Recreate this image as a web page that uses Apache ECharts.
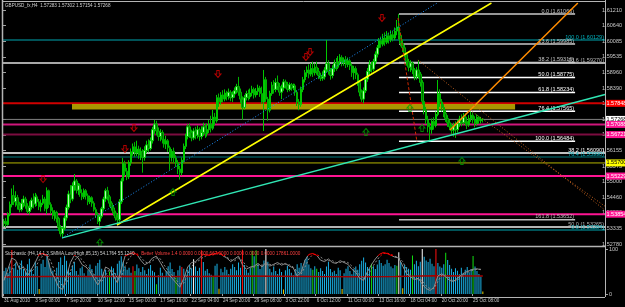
<!DOCTYPE html>
<html><head><meta charset="utf-8">
<script src="https://cdn.jsdelivr.net/npm/echarts@6/dist/echarts.min.js"></script>
<style>html,body{margin:0;padding:0;background:#000;}#c{width:625px;height:307px;}</style>
</head><body><div id="c"></div>
<script>
const FONT = "'Liberation Sans Narrow','Liberation Sans',Arial,sans-serif";
const symbolTitle = 'GBPUSD_fx,H4  1.57283 1.57302 1.57154 1.57268';
const stochTitle = 'Stochastic (H4,14,1,3,SMMA,Low/High,85,15) 54.1764 55.1240';
const volTitle = 'Better Volume 1.4 0.0000 0.0000 667.0000 0.0000 0.0000 0.0000 17861.0000';
const timeLabels = ['31 Aug 2010','3 Sep 08:00','7 Sep 20:00','10 Sep 12:00','15 Sep 00:00','17 Sep 16:00','22 Sep 04:00','24 Sep 20:00','29 Sep 08:00','3 Oct 22:00','6 Oct 12:00','11 Oct 00:00','13 Oct 16:00','18 Oct 04:00','20 Oct 20:00','25 Oct 08:00'];
const priceTickLabels = ['1.52780','1.53335','1.53890','1.54460','1.55000','1.55575','1.56155','1.56700','1.57260','1.57825','1.58390','1.58960','1.59535','1.60085','1.60640','1.61210'];
const stochTickLabels = {0:'0',100:'100'};
const stochOverbought = 85;
// [open, close, low, high]
const candles = [
[1.5352,1.5360,1.5340,1.5368],[1.5360,1.5348,1.5338,1.5372],[1.5348,1.5385,1.5344,1.5392],[1.5385,1.5420,1.5378,1.5431],[1.5420,1.5452,1.5410,1.5478],
[1.5452,1.5430,1.5418,1.5490],[1.5430,1.5445,1.5412,1.5468],[1.5445,1.5418,1.5402,1.5455],[1.5418,1.5402,1.5392,1.5430],[1.5402,1.5425,1.5395,1.5440],
[1.5425,1.5440,1.5410,1.5452],[1.5440,1.5415,1.5405,1.5448],[1.5415,1.5395,1.5386,1.5425],[1.5395,1.5410,1.5384,1.5432],[1.5410,1.5436,1.5402,1.5445],
[1.5436,1.5422,1.5406,1.5460],[1.5422,1.5448,1.5412,1.5462],[1.5448,1.5430,1.5415,1.5456],[1.5430,1.5412,1.5400,1.5440],[1.5412,1.5425,1.5395,1.5438],
[1.5425,1.5440,1.5418,1.5455],[1.5440,1.5405,1.5396,1.5448],[1.5405,1.5470,1.5385,1.5482],[1.5470,1.5420,1.5408,1.5474],[1.5420,1.5398,1.5385,1.5428],
[1.5398,1.5380,1.5368,1.5410],[1.5380,1.5392,1.5362,1.5400],[1.5392,1.5370,1.5355,1.5398],[1.5370,1.5338,1.5325,1.5376],[1.5338,1.5315,1.5305,1.5346],
[1.5315,1.5335,1.5298,1.5340],[1.5335,1.5372,1.5328,1.5380],[1.5372,1.5410,1.5362,1.5420],[1.5410,1.5458,1.5402,1.5470],[1.5458,1.5440,1.5425,1.5490],
[1.5440,1.5488,1.5432,1.5500],[1.5488,1.5505,1.5470,1.5530],[1.5505,1.5472,1.5460,1.5512],[1.5472,1.5490,1.5455,1.5498],[1.5490,1.5462,1.5448,1.5496],
[1.5462,1.5448,1.5436,1.5475],[1.5448,1.5470,1.5440,1.5478],[1.5470,1.5452,1.5438,1.5476],[1.5452,1.5430,1.5418,1.5460],[1.5430,1.5445,1.5422,1.5452],
[1.5445,1.5425,1.5412,1.5450],[1.5425,1.5402,1.5395,1.5432],[1.5402,1.5385,1.5372,1.5410],[1.5385,1.5360,1.5350,1.5392],[1.5360,1.5378,1.5344,1.5384],
[1.5378,1.5405,1.5370,1.5412],[1.5405,1.5440,1.5398,1.5448],[1.5440,1.5470,1.5430,1.5478],[1.5470,1.5448,1.5435,1.5484],[1.5448,1.5425,1.5412,1.5455],
[1.5425,1.5408,1.5398,1.5432],[1.5408,1.5390,1.5380,1.5418],[1.5390,1.5372,1.5362,1.5398],[1.5372,1.5365,1.5346,1.5385],[1.5365,1.5430,1.5358,1.5440],
[1.5430,1.5505,1.5422,1.5515],[1.5505,1.5568,1.5498,1.5588],[1.5568,1.5540,1.5522,1.5578],[1.5540,1.5520,1.5508,1.5552],[1.5520,1.5572,1.5512,1.5580],
[1.5572,1.5610,1.5560,1.5622],[1.5610,1.5628,1.5596,1.5640],[1.5628,1.5605,1.5592,1.5645],[1.5605,1.5620,1.5595,1.5650],[1.5620,1.5598,1.5585,1.5632],
[1.5598,1.5612,1.5580,1.5626],[1.5612,1.5590,1.5535,1.5620],[1.5590,1.5615,1.5578,1.5630],[1.5615,1.5635,1.5605,1.5650],[1.5635,1.5622,1.5608,1.5655],
[1.5622,1.5650,1.5615,1.5662],[1.5650,1.5690,1.5640,1.5700],[1.5690,1.5710,1.5675,1.5725],[1.5710,1.5685,1.5670,1.5722],[1.5685,1.5665,1.5650,1.5698],
[1.5665,1.5680,1.5648,1.5692],[1.5680,1.5655,1.5640,1.5688],[1.5655,1.5638,1.5625,1.5662],[1.5638,1.5650,1.5620,1.5668],[1.5650,1.5625,1.5610,1.5656],
[1.5625,1.5590,1.5545,1.5632],[1.5590,1.5612,1.5575,1.5620],[1.5612,1.5588,1.5570,1.5625],[1.5588,1.5570,1.5555,1.5598],[1.5570,1.5548,1.5530,1.5580],
[1.5548,1.5535,1.5510,1.5560],[1.5535,1.5580,1.5525,1.5590],[1.5580,1.5630,1.5572,1.5640],[1.5630,1.5665,1.5620,1.5675],[1.5665,1.5700,1.5655,1.5710],
[1.5700,1.5680,1.5660,1.5712],[1.5680,1.5660,1.5648,1.5690],[1.5660,1.5685,1.5652,1.5695],[1.5685,1.5670,1.5655,1.5700],[1.5670,1.5690,1.5658,1.5705],
[1.5690,1.5665,1.5650,1.5698],[1.5665,1.5680,1.5655,1.5702],[1.5680,1.5700,1.5668,1.5715],[1.5700,1.5675,1.5660,1.5710],[1.5675,1.5690,1.5665,1.5712],
[1.5690,1.5710,1.5678,1.5725],[1.5710,1.5695,1.5680,1.5740],[1.5695,1.5735,1.5688,1.5761],[1.5735,1.5722,1.5705,1.5750],[1.5722,1.5805,1.5715,1.5815],
[1.5805,1.5790,1.5772,1.5820],[1.5790,1.5815,1.5780,1.5825],[1.5815,1.5800,1.5788,1.5832],[1.5800,1.5822,1.5792,1.5835],[1.5822,1.5810,1.5795,1.5830],
[1.5810,1.5825,1.5798,1.5838],[1.5825,1.5805,1.5792,1.5832],[1.5805,1.5818,1.5790,1.5828],[1.5818,1.5830,1.5805,1.5842],[1.5830,1.5845,1.5820,1.5855],
[1.5845,1.5825,1.5812,1.5880],[1.5825,1.5800,1.5785,1.5838],[1.5800,1.5770,1.5725,1.5810],[1.5770,1.5805,1.5762,1.5815],[1.5805,1.5820,1.5795,1.5830],
[1.5820,1.5808,1.5795,1.5834],[1.5808,1.5822,1.5800,1.5838],[1.5822,1.5835,1.5810,1.5848],[1.5835,1.5815,1.5802,1.5842],[1.5815,1.5828,1.5806,1.5840],
[1.5828,1.5840,1.5815,1.5852],[1.5840,1.5820,1.5808,1.5848],[1.5820,1.5790,1.5782,1.5845],[1.5790,1.5870,1.5685,1.5905],[1.5870,1.5800,1.5790,1.5880],
[1.5800,1.5760,1.5722,1.5808],[1.5760,1.5820,1.5752,1.5830],[1.5820,1.5850,1.5812,1.5862],[1.5850,1.5835,1.5820,1.5868],[1.5835,1.5860,1.5825,1.5875],
[1.5860,1.5845,1.5832,1.5885],[1.5845,1.5825,1.5812,1.5858],[1.5825,1.5840,1.5800,1.5852],[1.5840,1.5862,1.5830,1.5872],[1.5862,1.5850,1.5838,1.5870],
[1.5850,1.5835,1.5825,1.5862],[1.5835,1.5852,1.5828,1.5860],[1.5852,1.5840,1.5830,1.5858],[1.5840,1.5848,1.5832,1.5856],[1.5848,1.5825,1.5812,1.5855],
[1.5825,1.5790,1.5775,1.5832],[1.5790,1.5780,1.5760,1.5800],[1.5780,1.5835,1.5772,1.5845],[1.5835,1.5870,1.5825,1.5880],[1.5870,1.5895,1.5860,1.5905],
[1.5895,1.5905,1.5880,1.5918],[1.5905,1.5890,1.5875,1.5925],[1.5890,1.5910,1.5882,1.5930],[1.5910,1.5895,1.5880,1.5935],[1.5895,1.5915,1.5885,1.5928],
[1.5915,1.5900,1.5888,1.5935],[1.5900,1.5885,1.5872,1.5912],[1.5885,1.5875,1.5865,1.5895],[1.5875,1.5880,1.5866,1.5900],[1.5880,1.5905,1.5870,1.5915],
[1.5905,1.5928,1.5895,1.6013],[1.5928,1.5900,1.5888,1.5940],[1.5900,1.5885,1.5870,1.5912],[1.5885,1.5910,1.5875,1.5922],[1.5910,1.5930,1.5898,1.5942],
[1.5930,1.5915,1.5902,1.5948],[1.5915,1.5935,1.5908,1.5955],[1.5935,1.5950,1.5922,1.5962],[1.5950,1.5930,1.5918,1.5958],[1.5930,1.5942,1.5920,1.5950],
[1.5942,1.5925,1.5912,1.5955],[1.5925,1.5938,1.5915,1.5950],[1.5938,1.5920,1.5905,1.5945],[1.5920,1.5895,1.5880,1.5928],[1.5895,1.5910,1.5870,1.5920],
[1.5910,1.5888,1.5872,1.5918],[1.5888,1.5860,1.5848,1.5895],[1.5860,1.5825,1.5810,1.5868],[1.5825,1.5800,1.5790,1.5835],[1.5800,1.5830,1.5785,1.5842],
[1.5830,1.5872,1.5822,1.5880],[1.5872,1.5900,1.5862,1.5912],[1.5900,1.5925,1.5888,1.5940],[1.5925,1.5908,1.5895,1.5935],[1.5908,1.5935,1.5900,1.5945],
[1.5935,1.5962,1.5925,1.5972],[1.5962,1.5985,1.5950,1.5995],[1.5985,1.6010,1.5975,1.6020],[1.6010,1.5998,1.5985,1.6025],[1.5998,1.6020,1.5990,1.6035],
[1.6020,1.6005,1.5992,1.6040],[1.6005,1.6028,1.5998,1.6045],[1.6028,1.6015,1.6000,1.6040],[1.6015,1.6032,1.6005,1.6048],[1.6032,1.6020,1.6008,1.6045],
[1.6020,1.6045,1.6012,1.6058],[1.6045,1.6060,1.6030,1.6085],[1.6060,1.6030,1.6015,1.6107],[1.6030,1.6000,1.5990,1.6040],[1.6000,1.5985,1.5970,1.6015],
[1.5985,1.5960,1.5950,1.5995],[1.5960,1.5935,1.5920,1.5968],[1.5935,1.5915,1.5900,1.5945],[1.5915,1.5930,1.5898,1.5940],[1.5930,1.5905,1.5890,1.5935],
[1.5905,1.5880,1.5868,1.5912],[1.5880,1.5905,1.5870,1.5915],[1.5905,1.5890,1.5875,1.5941],[1.5890,1.5860,1.5845,1.5898],[1.5860,1.5792,1.5780,1.5868],
[1.5792,1.5760,1.5745,1.5802],[1.5760,1.5725,1.5710,1.5772],[1.5725,1.5700,1.5680,1.5740],[1.5700,1.5690,1.5650,1.5715],[1.5690,1.5720,1.5675,1.5730],
[1.5720,1.5705,1.5690,1.5735],[1.5705,1.5745,1.5698,1.5755],[1.5745,1.5820,1.5738,1.5869],[1.5820,1.5790,1.5772,1.5835],[1.5790,1.5770,1.5755,1.5800],
[1.5770,1.5748,1.5735,1.5782],[1.5748,1.5730,1.5718,1.5760],[1.5730,1.5715,1.5700,1.5742],[1.5715,1.5700,1.5688,1.5725],[1.5700,1.5688,1.5672,1.5712],
[1.5688,1.5705,1.5665,1.5715],[1.5705,1.5690,1.5660,1.5720],[1.5690,1.5712,1.5680,1.5725],[1.5712,1.5728,1.5700,1.5740],[1.5728,1.5715,1.5702,1.5745],
[1.5715,1.5735,1.5708,1.5750],[1.5735,1.5720,1.5705,1.5748],[1.5720,1.5708,1.5692,1.5732],[1.5708,1.5730,1.5700,1.5742],[1.5730,1.5742,1.5718,1.5755],
[1.5742,1.5725,1.5712,1.5752],[1.5725,1.5712,1.5698,1.5738],[1.5712,1.5735,1.5705,1.5745],[1.5735,1.5722,1.5710,1.5740],[1.5722,1.5728,1.5712,1.5736],
[1.57283,1.57268,1.57154,1.57302]
];
const volumes = [
11200,12800,10400,13500,21500,12600,15200,11800,13900,16400,
12200,10800,14600,17200,12400,9800,15800,13600,2400,14800,
16800,13200,19600,15400,12600,11400,8600,12800,15600,17800,
14200,18600,16200,12400,10800,13800,15600,11200,9400,12600,
13400,10200,8800,11600,14400,12200,9600,13800,15200,16800,
12400,10600,11800,9200,11000,13400,12600,10200,14800,16200,
18400,15800,13200,11800,12800,10400,13600,11200,14400,12600,
10800,13200,11600,9800,12400,14200,11400,10600,4800,9200,
12800,10400,8600,11200,13600,15400,12200,10800,8200,11600,
13800,13200,12400,9600,11800,14200,12600,17000,13400,11200,
12800,21400,15600,11400,12200,10200,9400,8600,13800,14800,
2600,12400,10600,13200,11800,9800,12400,14600,13200,11600,
15400,12800,21600,14200,11800,10400,12600,21200,18400,21400,
14600,12200,13800,16400,23200,15800,12400,10600,13400,11200,
9800,12400,10800,2200,11600,13800,12200,10400,9200,11800,
14600,12800,15200,13400,16800,18200,14400,12600,11800,13600,
12400,10800,12600,11200,9800,13400,15800,12200,10600,11400,
9800,12800,11600,2400,10200,12400,13600,11200,9600,12200,
13400,11800,14600,16200,17800,15400,13200,12400,14800,13600,
12200,14400,16600,15200,13800,14600,16800,15200,13400,12600,
14200,13800,20400,15600,2800,14200,13200,12400,11800,18800,
14600,16200,13600,15800,24800,18200,16400,15600,17200,14800,
13600,23800,15200,13400,12800,14600,20200,16600,14200,12400,
10800,12600,11400,9600,12800,10400,11800,13200,10600,12200,
18600,13400,11200,9800,8600,1200
];
const redVolBars = [4,66,91,101,122,221];
const greenVolBars = [54,67,78,88,107,127,129,158,160,188,201,209,226,240];
const whiteVolBars = [97,134,202,214];
const yellowVolBars = [18,110,143,173,204,245];
const volumeAverage = [[0,8300],[20,8500],[40,8600],[60,8700],[80,8500],[100,8600],[120,8800],[140,8700],[160,8500],[180,8400],[200,8600],[220,8900],[245,8800]];
// stochastic sampled every 2 bars
const stochMain = [30,55,80,75,55,60,40,55,70,88, 90,86,50,35,15,10,40,70,86,80, 65,60,50,35,20,35,60,55,40,25,
 55,85,88,92,88,75,65,70,80,84, 70,55,45,35,25,15,35,60,70,72, 80,88,86,88,90,92,85,80,72,78,
 84,65,55,60,62,68,60,70,62,66, 70,64,68,62,58,40,48,75,88,90, 86,75,72,78,70,68,74,70,66,55,
 48,35,30,50,65,78,88,92,90,86, 82,80,62,45,38,32,35,22,12,8, 15,40,45,38,30,28,35,42,48,52, 55,56,54];
const stochSignal = [35,40,55,70,68,60,52,50,58,75, 86,88,72,50,30,18,24,50,74,84, 76,64,56,44,30,28,42,54,50,36,
 38,62,80,88,90,82,72,68,74,80, 78,64,52,42,32,22,24,44,62,70, 75,82,86,86,88,90,88,82,76,74,
 80,74,62,58,60,64,64,65,66,64, 66,68,66,65,60,50,44,60,78,88, 88,82,76,74,74,70,70,72,70,62,
 53,42,34,40,56,70,82,90,91,88, 84,81,72,55,42,36,33,30,18,12, 12,28,42,42,34,29,31,38,45,50, 53,55,55];
// horizontal price levels [price, label]
const levelTeal1 = [1.60129,'100.0 (1.60129)'];
const levelGrey1 = [1.59300,'23.6 (1.59270)'];
const levelRed = [1.57848,'1.57848'];
const levelBid = [1.57268,'1.57268'];
const levelMag1 = [1.57088,'1.57088'];
const levelMag2 = [1.56721,'1.56721'];
const levelWhite = [1.56058,'38.2 (1.56090)'];
const levelTeal2 = [1.55914,'76.4 (1.55990)'];
const levelOlive = [1.55700,'1.55700'];
const levelPink1 = [1.55229,'1.55229'];
const levelPink2 = [1.53854,'1.53854'];
const levelGrey2 = [1.53392,'50.0 (1.53265)'];
const levelTeal3 = [1.53284,'0.0 (1.53284)'];
// Fibonacci retracement
const fibSpan = [202.1, 292.2];
const fibLevels = ['0.0','23.6','38.2','50.0','61.8','76.4','100.0','161.8'];
const fibPrices = [1.61066,1.59985,1.59316,1.58775,1.58234,1.57565,1.56484,1.53652];
// rectangle zone [bar from, bar to, price high, price low]
const zoneBand = [34.8, 261.5, 1.57823, 1.57625];
// trendlines [[bar, price],[bar, price]]
const trendYellow = [[57.8,1.53464],[249.4,1.61462]];
const trendAqua = [[29.7,1.53000],[307.5,1.58166]];
const trendBlueDot = [[29.7,1.53000],[221.6,1.61462]];
const trendOrange = [[228.2,1.56887],[293.6,1.61462]];
const trendBrownA = [[211.8,1.59409],[307.5,1.53996]];
const trendBrownB = [[238.4,1.57607],[307.5,1.54140]];
const trendRedDash = [[201.6,1.60922],[211.3,1.56454]];
// fractal arrows [bar, price]
const downArrows = [[20.0,1.55121],[61.9,1.56202],[66.5,1.56959],[109.5,1.58904],[154.5,1.59517],[156.6,1.59697],[193.4,1.60922]];
const upArrows = [[49.1,1.52830],[86.5,1.54653],[185.2,1.56815],[207.7,1.57679],[213.9,1.56959],[234.3,1.55770]];

const N_SLOTS = 308;
const X0 = -0.5, X1 = N_SLOTS - 0.5;
const slots = Array.from({length: N_SLOTS}, (_, i) => String(i));
const chart = echarts.init(document.getElementById('c'), null, {renderer: 'canvas'});
const fontSm = {fontFamily: FONT, fontSize: 5.5};
const STOCH_TOP = 249, STOCH_H = 45;

function volColor(i){
  if (redVolBars.includes(i)) return '#ff1010';
  if (greenVolBars.includes(i)) return '#10e010';
  if (whiteVolBars.includes(i)) return '#ffffff';
  if (yellowVolBars.includes(i)) return '#e8d000';
  return '#1ab2e6';
}
function hSeries(x0, x1, price, color, width, endLabel, z){
  return {type: 'line', xAxisIndex: 2, yAxisIndex: 0, data: [[x0, price], [x1, price]], symbol: 'none', silent: true,
    z: z || 1, lineStyle: {color: color, width: width}, endLabel: endLabel};
}
function boxLabel(text, bg, fg){
  return {show: true, formatter: text, backgroundColor: bg, color: fg, padding: [1, 1, 0, 1], distance: 0.5, ...fontSm};
}
function topLabel(text, color){
  return {show: true, formatter: text, color: color, align: 'right', verticalAlign: 'bottom', distance: -1, ...fontSm};
}
const fibColors = ['#c8c8c8','#c8c8c8','#c8c8c8','#ffffff','#ffffff','#ffffff','#ffffff','#bcbcbc'];
function trend(data, color, type, width){
  return {type: 'line', xAxisIndex: 2, yAxisIndex: 0, data: data, symbol: 'none', silent: true, z: 4,
    lineStyle: {color: color, width: width, type: type}};
}
const DOWN = 'path://M3,0L7,0L7,5L10,5L5,10L0,5L3,5Z';
const UP = 'path://M5,0L10,5L7,5L7,10L3,10L3,5L0,5Z';

const levelSeries = [
  hSeries(X0, X1, levelTeal1[0], '#00a6b0', 1, topLabel(levelTeal1[1], '#00b4c0')),
  hSeries(X0, X1, levelGrey1[0], '#a8a8a8', 2, topLabel(levelGrey1[1], '#b4b4b4')),
  hSeries(X0, X1, levelRed[0], '#d00000', 2, boxLabel(levelRed[1], '#ff0000', '#ffffff')),
  hSeries(X0, X1, levelBid[0], '#808080', 1, boxLabel(levelBid[1], '#ffffff', '#000000')),
  hSeries(X0, X1, levelMag1[0], '#d0167c', 2, boxLabel(levelMag1[1], '#ff1493', '#ffffff')),
  hSeries(X0, X1, levelMag2[0], '#7c0c40', 2, boxLabel(levelMag2[1], '#ff1493', '#ffffff')),
  hSeries(X0, X1, levelWhite[0], '#ffffff', 1.5, topLabel(levelWhite[1], '#ffffff')),
  hSeries(X0, X1, levelTeal2[0], '#007a80', 1, topLabel(levelTeal2[1], '#00b4c0')),
  hSeries(X0, X1, levelOlive[0], '#b4b400', 1, boxLabel(levelOlive[1], '#ffff00', '#000000')),
  hSeries(X0, X1, levelPink1[0], '#ff1493', 2, boxLabel(levelPink1[1], '#ff1493', '#ffffff')),
  hSeries(X0, X1, levelPink2[0], '#ff1493', 2, boxLabel(levelPink2[1], '#ff1493', '#ffffff')),
  hSeries(X0, X1, levelGrey2[0], '#b4b4b4', 2, topLabel(levelGrey2[1], '#b4b4b4')),
  hSeries(X0, X1, levelTeal3[0], '#00a6b0', 1, topLabel(levelTeal3[1], '#00b4c0'))
].concat(fibPrices.map((p, k) => hSeries(fibSpan[0], fibSpan[1], p, fibColors[k], 1.5,
  topLabel(fibLevels[k] + ' (' + p.toFixed(5) + ')', fibColors[k]), 1)));

const bandSeries = {type: 'custom', xAxisIndex: 2, yAxisIndex: 0, data: [zoneBand], silent: true, z: 2,
  renderItem: (params, api) => {
    const a = api.coord([api.value(0), api.value(2)]);
    const b = api.coord([api.value(1), api.value(3)]);
    return {type: 'rect', shape: {x: a[0], y: a[1], width: b[0] - a[0], height: b[1] - a[1]},
      style: {fill: 'rgba(200,176,0,0.85)'}};
  }};

const mainSeries = [
  bandSeries,
  {type: 'candlestick', xAxisIndex: 0, yAxisIndex: 0, data: candles, barWidth: 2, z: 3, silent: true,
   itemStyle: {color: '#b0ffb0', borderColor: '#00c800', color0: '#007000', borderColor0: '#00b400', borderWidth: 1}},
  trend(trendYellow, '#ffff00', 'solid', 1.5),
  trend(trendAqua, '#30e6b4', 'solid', 1.5),
  trend(trendBlueDot, '#1e90ff', [1, 2], 1),
  trend(trendOrange, '#ff8c00', 'solid', 1.5),
  trend(trendBrownA, '#c8641e', [1, 2], 1),
  trend(trendBrownB, '#c8641e', [1, 2], 1),
  trend(trendRedDash, '#d02800', [3, 2], 1),
  {type: 'scatter', xAxisIndex: 2, yAxisIndex: 0, data: downArrows, symbol: DOWN, symbolSize: [6, 7], z: 6, silent: true,
   itemStyle: {color: 'rgba(0,0,0,0)', borderColor: '#e00000', borderWidth: 1}},
  {type: 'scatter', xAxisIndex: 2, yAxisIndex: 0, data: upArrows, symbol: UP, symbolSize: [6, 7], z: 6, silent: true,
   itemStyle: {color: 'rgba(0,0,0,0)', borderColor: '#00a000', borderWidth: 1}}
];
// stochastic line colour: red above the overbought level, grey below (gradient in page coordinates)
const obOffset = (100 - stochOverbought) / 100;
function stochGradient(){
  return new echarts.graphic.LinearGradient(0, STOCH_TOP, 0, STOCH_TOP + STOCH_H, [
    {offset: 0, color: '#ff0000'}, {offset: obOffset, color: '#ff0000'},
    {offset: obOffset, color: '#8c8c8c'}, {offset: 1, color: '#8c8c8c'}], true);
}
const lowerSeries = [
  {type: 'bar', xAxisIndex: 1, yAxisIndex: 3, barWidth: 1, silent: true,
   data: volumes.map((v, i) => ({value: v, itemStyle: {color: volColor(i)}}))},
  {type: 'line', xAxisIndex: 1, yAxisIndex: 3, data: volumeAverage, symbol: 'none', silent: true, z: 5,
   lineStyle: {color: '#a00000', width: 1.5}},
  {type: 'line', xAxisIndex: 1, yAxisIndex: 2, data: stochMain.map((v, k) => [2 * k, v]), symbol: 'none', silent: true, z: 6,
   lineStyle: {width: 1, color: stochGradient()}},
  {type: 'line', xAxisIndex: 1, yAxisIndex: 2, data: stochSignal.map((v, k) => [2 * k, v]), symbol: 'none', silent: true, z: 6,
   lineStyle: {width: 1, type: [2, 2], color: stochGradient()}}
];
const allSeries = levelSeries.concat(mainSeries, lowerSeries);
const tickShown = (i) => i % 16 === 0 && i / 16 < timeLabels.length;

chart.setOption({
  backgroundColor: '#000000',
  animation: false,
  grid: [
    {left: 3, top: 3, width: 602, height: 242},
    {left: 3, top: STOCH_TOP, width: 602, height: STOCH_H},
    {left: 3, top: 10, width: 602, height: 234}
  ],
  xAxis: [
    {type: 'category', gridIndex: 0, data: slots, show: false, boundaryGap: true},
    {type: 'category', gridIndex: 1, data: slots, boundaryGap: true, offset: 3,
     axisLine: {show: false},
     axisTick: {show: true, interval: tickShown, length: 2, lineStyle: {color: '#a0a0a0'}},
     axisLabel: {interval: tickShown, formatter: (v) => timeLabels[Math.round(Number(v) / 16)] || '', align: 'left', color: '#c8c8c8', margin: 1, fontFamily: FONT, fontSize: 4.6},
     splitLine: {show: false}},
    {type: 'value', gridIndex: 0, min: X0, max: X1, show: false},
    {type: 'value', gridIndex: 2, min: 0, max: 1, show: false}
  ],
  yAxis: [
    {type: 'value', gridIndex: 0, min: 1.52744, max: 1.61462, show: false, scale: true},
    {type: 'value', gridIndex: 2, min: 0, max: priceTickLabels.length - 1, interval: 1, position: 'right',
     axisLine: {show: false}, splitLine: {show: false},
     axisTick: {show: true, length: 3, lineStyle: {color: '#a0a0a0'}},
     axisLabel: {formatter: (v) => priceTickLabels[Math.round(v)], color: '#c8c8c8', margin: 4, ...fontSm}},
    {type: 'value', gridIndex: 1, min: 0, max: 100, interval: 100, position: 'right',
     axisLine: {show: false}, splitLine: {show: false},
     axisTick: {show: true, length: 3, lineStyle: {color: '#a0a0a0'}},
     axisLabel: {formatter: (v) => stochTickLabels[v], color: '#c8c8c8', margin: 4, ...fontSm}},
    {type: 'value', gridIndex: 1, min: 0, max: 22000, show: false}
  ],
  series: allSeries,
  graphic: [
    {type: 'line', shape: {x1: 2.5, y1: 0, x2: 2.5, y2: 297}, style: {stroke: '#b4b4b4', lineWidth: 1.5}, z: 10, silent: true},
    {type: 'line', shape: {x1: 2, y1: 1.5, x2: 605, y2: 1.5}, style: {stroke: '#b4b4b4', lineWidth: 1}, z: 10, silent: true},
    {type: 'line', shape: {x1: 605.5, y1: 0, x2: 605.5, y2: 297}, style: {stroke: '#b4b4b4', lineWidth: 1}, z: 10, silent: true},
    {type: 'line', shape: {x1: 2, y1: 246.5, x2: 605, y2: 246.5}, style: {stroke: '#b4b4b4', lineWidth: 1.5}, z: 10, silent: true},
    {type: 'line', shape: {x1: 2, y1: 297.5, x2: 605, y2: 297.5}, style: {stroke: '#b4b4b4', lineWidth: 1}, z: 10, silent: true},
    {type: 'text', left: 5, top: 3, z: 10, silent: true, style: {text: symbolTitle, fill: '#d0d0d0', font: '4.6px ' + FONT}},
    {type: 'text', left: 5, top: 248, z: 10, silent: true,
     style: {text: '{a|' + stochTitle + '}  {b|' + volTitle + '}', rich: {a: {fill: '#d0d0d0', fontSize: 4.6, fontFamily: FONT}, b: {fill: '#ff4040', fontSize: 4.6, fontFamily: FONT}}}}
  ]
});
</script></body></html>
